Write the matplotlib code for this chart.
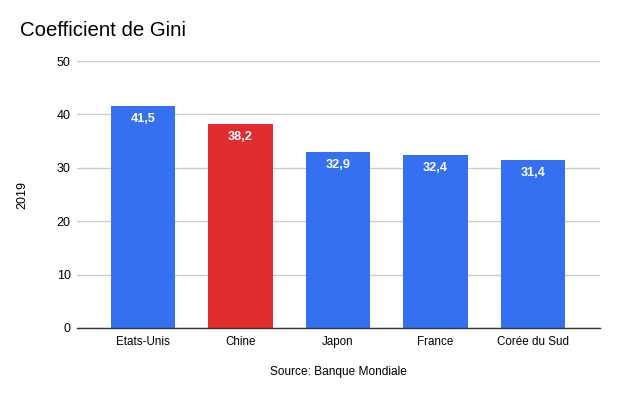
import matplotlib
matplotlib.use("Agg")
import matplotlib.pyplot as plt

categories = ["Etats-Unis", "Chine", "Japon", "France", "Corée du Sud"]
values = [41.5, 38.2, 32.9, 32.4, 31.4]
labels = ["41,5", "38,2", "32,9", "32,4", "31,4"]
colors = ["#3470EF", "#E12D2D", "#3470EF", "#3470EF", "#3470EF"]
yticks = [0, 10, 20, 30, 40, 50]

plt.rcParams['font.family'] = ['Liberation Sans', 'DejaVu Sans']

fig = plt.figure(figsize=(6.2, 4.0), dpi=100)
ax = fig.add_axes([0.124, 0.18, 0.844, 0.6675])

x = list(range(len(categories)))
bars = ax.bar(x, values, width=0.66, color=colors, zorder=3)
for b, lab in zip(bars, labels):
    ax.annotate(lab, (b.get_x() + b.get_width() / 2, b.get_height()),
                xytext=(0, -5), textcoords="offset points",
                ha="center", va="top", color="white", fontsize=9.2, fontweight="bold", zorder=4)

ax.set_xlim(-0.677, 4.687)
ax.set_ylim(0, 50)
ax.set_yticks(yticks)
ax.set_yticklabels([str(t) for t in yticks], fontsize=9)
ax.set_xticks(x)
ax.set_xticklabels(categories, fontsize=8.4)
ax.yaxis.grid(True, color="#CCCCCC", linewidth=1, zorder=0)
ax.tick_params(axis="both", length=0, pad=6)
ax.tick_params(axis="y", pad=4.5)
for s in ["top", "right", "left"]:
    ax.spines[s].set_visible(False)
ax.spines["bottom"].set_color("#333333")
ax.spines["bottom"].set_linewidth(1)
ax.spines["bottom"].set_zorder(5)

fig.text(20 / 620, 1 - 30 / 400, "Coefficient de Gini", fontsize=14.7, ha="left", va="center")
fig.text(22 / 620, 1 - 195 / 400, "2019", fontsize=9, rotation=90, ha="center", va="center")
fig.text(338 / 620, 1 - 372 / 400, "Source: Banque Mondiale", fontsize=8.6, ha="center", va="center")

fig.savefig("out.png", dpi=100)
